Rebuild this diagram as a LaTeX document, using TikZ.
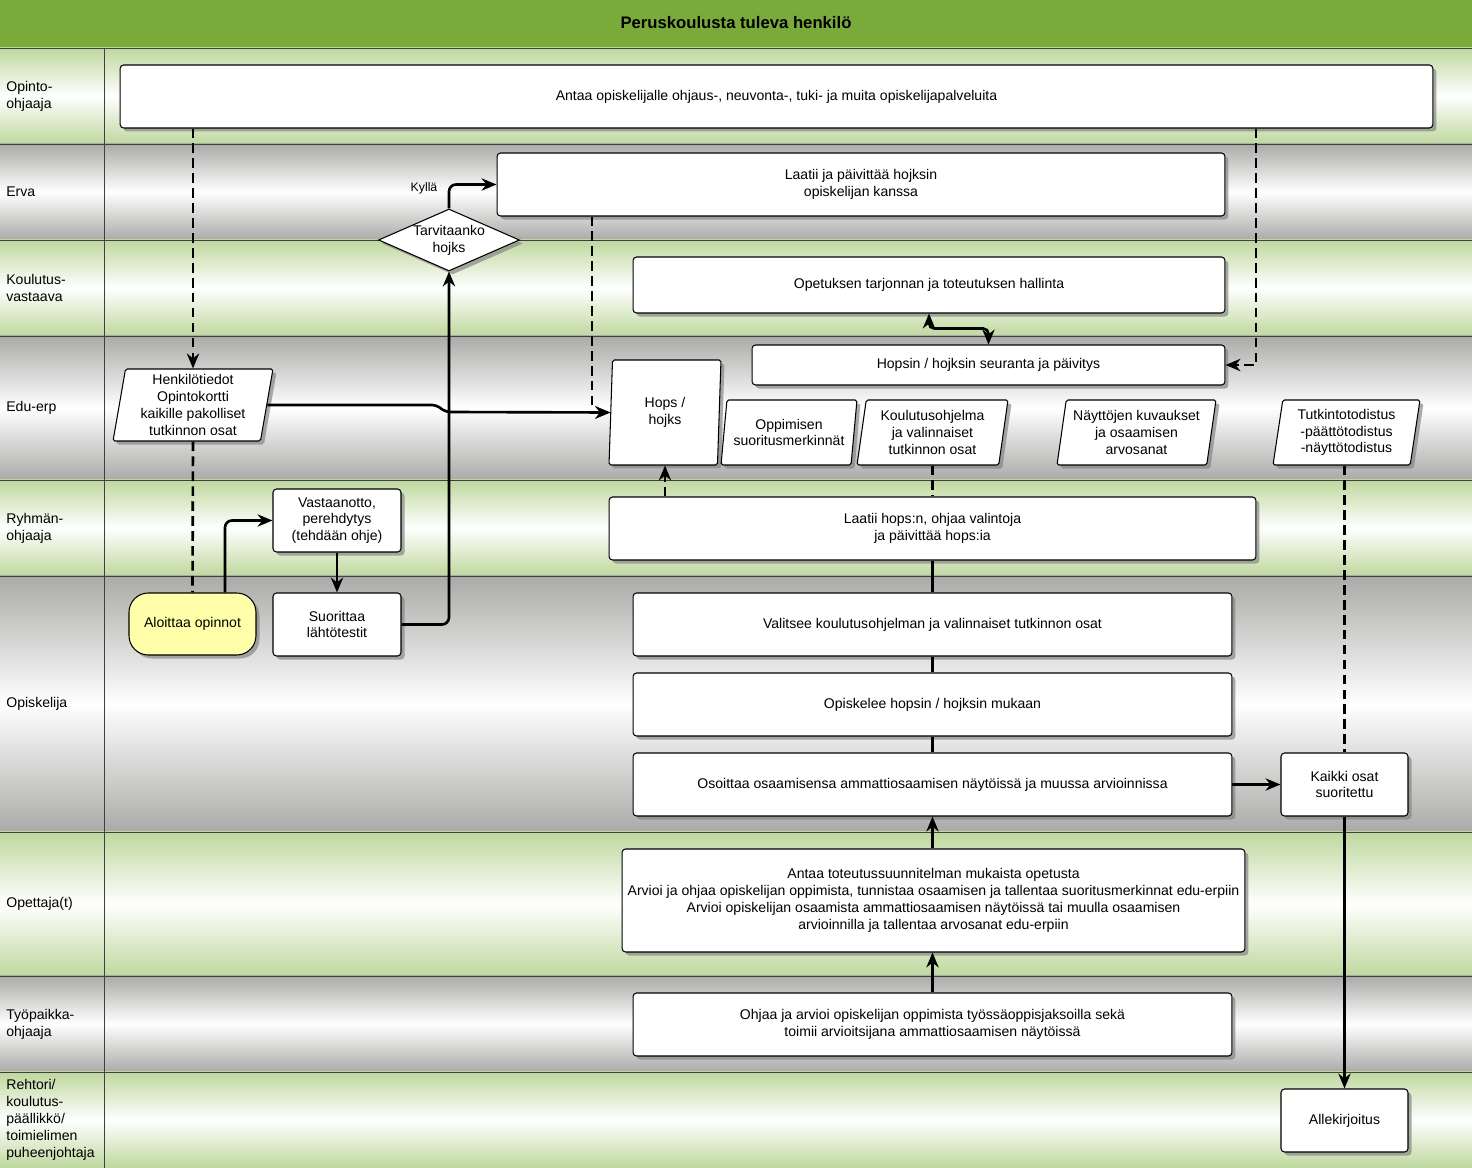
\documentclass[tikz,border=0pt]{standalone}
\usepackage{fontspec}
\setmainfont{Liberation Sans}
\usetikzlibrary{shapes.geometric,shadows,arrows.meta}

\definecolor{otsikkovari}{RGB}{122,171,58}
\definecolor{vihrea}{RGB}{190,216,158}
\definecolor{harmaa}{RGB}{170,170,168}
\definecolor{keltainen}{RGB}{255,255,170}

\tikzset{
  laatikko/.style={draw, fill=white, rounded corners=2pt, line width=0.6pt, align=center, inner sep=1pt,
    drop shadow={shadow xshift=2pt, shadow yshift=-2pt, opacity=0.65}},
  tieto/.style={laatikko, trapezium, trapezium left angle=79, trapezium right angle=101,
    trapezium stretches body, rounded corners=1pt, inner xsep=0pt},
  paatos/.style={laatikko, diamond, rounded corners=0pt, aspect=2.3, inner sep=0pt},
  kaistanimi/.style={anchor=west, align=left, inner sep=0pt},
  viiva/.style={line width=1.5pt},
  nuoli/.style={viiva, -{Stealth[length=8.5pt,width=7pt]}},
  katko/.style={viiva, dash pattern=on 5.5pt off 3pt},
}

\begin{document}
\begin{tikzpicture}[x=0.02cm, y=-0.02cm, every node/.append style={font=\fontsize{8}{9.6}\selectfont}]
  \useasboundingbox (0,0) rectangle (1472,1168);

  % Otsikko
  \fill[otsikkovari] (0,0) rectangle (1472,48);
  \node[font=\fontsize{9.5}{11}\selectfont\bfseries] (otsikko) at (736,23) {Peruskoulusta tuleva henkilö};

  % Kaistat
  \foreach \ya/\yb/\vari in {48/144/vihrea, 144/240/harmaa, 240/336/vihrea, 336/480/harmaa, 480/576/vihrea,
      576/832/harmaa, 832/976/vihrea, 976/1072/harmaa, 1072/1168/vihrea} {
    \shade[top color=\vari, bottom color=\vari, middle color=white] (0,\ya) rectangle (1472,\yb);
    \draw[black!75, line width=0.5pt] (0,\ya) -- (1472,\ya);
  }
  \draw[black!75, line width=0.5pt] (104,48) -- (104,1168);

  % Kaistojen nimet
  \foreach \yk/\nimi in {96/{Opinto-\\ohjaaja}, 192/Erva, 288/{Koulutus-\\vastaava}, 408/Edu-erp,
      528/{Ryhmän-\\ohjaaja}, 704/Opiskelija, 904/{Opettaja(t)}, 1024/{Työpaikka-\\ohjaaja},
      1120/{Rehtori/\\koulutus-\\päällikkö/\\toimielimen\\puheenjohtaja}}
    \node[kaistanimi] (kaista\yk) at (6,\yk) {\nimi};

  % Toiminnot
  \node[laatikko, minimum width=26.26cm, minimum height=1.26cm] (opo) at (776.5,96.5)
    {Antaa opiskelijalle ohjaus-, neuvonta-, tuki- ja muita opiskelijapalveluita};
  \node[laatikko, minimum width=14.56cm, minimum height=1.26cm] (hojksLaadinta) at (861,184.5)
    {Laatii ja päivittää hojksin\\opiskelijan kanssa};
  \node[paatos, minimum width=2.82cm, minimum height=1.24cm] (tarvitaanko) at (449,240) {Tarvitaanko\\hojks};
  \node[font=\fontsize{7}{8}\selectfont] (kylla) at (424,188) {Kyllä};
  \node[laatikko, minimum width=11.84cm, minimum height=1.12cm] (hallinta) at (929,285)
    {Opetuksen tarjonnan ja toteutuksen hallinta};
  \node[laatikko, minimum width=9.46cm, minimum height=0.8cm] (seuranta) at (988.5,365)
    {Hopsin / hojksin seuranta ja päivitys};

  % Edu-erp tiedot
  \node[tieto, minimum width=3.2cm, minimum height=1.44cm] (henkilotiedot) at (193,405)
    {Henkilötiedot\\Opintokortti\\kaikille pakolliset\\tutkinnon osat};
  \node[tieto, trapezium left angle=84, trapezium right angle=96, minimum width=2.24cm, minimum height=2.1cm]
    (hops) at (665,412.5) {Hops /\\hojks};
  \node[tieto, minimum width=2.72cm, minimum height=1.3cm] (merkinnat) at (789,432.5)
    {Oppimisen\\suoritusmerkinnät};
  \node[tieto, minimum width=3.02cm, minimum height=1.3cm] (koulutusohjelma) at (932.5,432.5)
    {Koulutusohjelma\\ja valinnaiset\\tutkinnon osat};
  \node[tieto, minimum width=3.18cm, minimum height=1.3cm] (naytot) at (1136.5,432.5)
    {Näyttöjen kuvaukset\\ja osaamisen\\arvosanat};
  \node[tieto, minimum width=2.94cm, minimum height=1.3cm] (todistus) at (1346.5,432.5)
    {Tutkintotodistus\\-päättötodistus\\-näyttötodistus};

  \node[laatikko, minimum width=2.56cm, minimum height=1.26cm] (vastaanotto) at (337,520.5)
    {Vastaanotto,\\perehdytys\\(tehdään ohje)};
  \node[laatikko, minimum width=12.94cm, minimum height=1.26cm] (laatiiHops) at (932.5,528.5)
    {Laatii hops:n, ohjaa valintoja\\ja päivittää hops:ia};

  % Opiskelija
  \node[laatikko, fill=keltainen, rounded corners=11pt, minimum width=2.54cm, minimum height=1.24cm]
    (aloittaa) at (192.5,624) {Aloittaa opinnot};
  \node[laatikko, minimum width=2.56cm, minimum height=1.26cm] (lahtotestit) at (337,624.5)
    {Suorittaa\\lähtötestit};
  \node[laatikko, minimum width=11.98cm, minimum height=1.26cm] (valitsee) at (932.5,624.5)
    {Valitsee koulutusohjelman ja valinnaiset tutkinnon osat};
  \node[laatikko, minimum width=11.98cm, minimum height=1.26cm] (opiskelee) at (932.5,704.5)
    {Opiskelee hopsin / hojksin mukaan};
  \node[laatikko, minimum width=11.98cm, minimum height=1.26cm] (osoittaa) at (932.5,784.5)
    {Osoittaa osaamisensa ammattiosaamisen näytöissä ja muussa arvioinnissa};
  \node[laatikko, minimum width=2.54cm, minimum height=1.26cm] (kaikki) at (1344.5,784.5)
    {Kaikki osat\\suoritettu};

  \node[laatikko, inner sep=0pt, minimum width=12.46cm, minimum height=2.06cm] (opetus) at (933.5,900.5)
    {Antaa toteutussuunnitelman mukaista opetusta\\
     Arvioi ja ohjaa opiskelijan oppimista, tunnistaa osaamisen ja tallentaa suoritusmerkinnat edu-erpiin\\
     Arvioi opiskelijan osaamista ammattiosaamisen näytöissä tai muulla osaamisen\\
     arvioinnilla ja tallentaa arvosanat edu-erpiin};
  \node[laatikko, minimum width=11.98cm, minimum height=1.26cm] (tyopaikka) at (932.5,1024.5)
    {Ohjaa ja arvioi opiskelijan oppimista työssäoppisjaksoilla sekä\\toimii arvioitsijana ammattiosaamisen näytöissä};
  \node[laatikko, minimum width=2.54cm, minimum height=1.26cm] (allekirjoitus) at (1344.5,1120.5)
    {Allekirjoitus};

  % Katkoviivat
  \draw[katko, nuoli] (opo.south -| henkilotiedot.center) -- (henkilotiedot.center |- henkilotiedot.north);
  \draw[katko] (henkilotiedot.center |- henkilotiedot.south) -- (aloittaa.north);
  \draw[katko, nuoli] (hojksLaadinta.south -| 592,0) |- (hops.west);
  \draw[katko, nuoli] (opo.south -| 1256,0) |- (seuranta.east);
  \draw[katko, nuoli] (laatiiHops.north -| hops.center) -- (hops.center |- hops.south);
  \draw[katko] (koulutusohjelma.center |- koulutusohjelma.south) -- (laatiiHops.north);
  \draw[katko] (todistus.south -| kaikki.north) -- (kaikki.north);

  % Nuolet
  \draw[nuoli, rounded corners=3pt] (henkilotiedot.east) -- (437,405) -- (445,412) -- (hops.west);
  \draw[nuoli, rounded corners=4pt] (tarvitaanko.north) |- (hojksLaadinta.west);
  \draw[viiva, {Stealth[length=8.5pt,width=7pt]}-{Stealth[length=8.5pt,width=7pt]}, rounded corners=3pt]
    (hallinta.south) -- ++(0,15) -| (seuranta.north);
  \draw[nuoli, rounded corners=4pt] (aloittaa.north -| 225,0) |- (vastaanotto.west);
  \draw[nuoli] (vastaanotto.south) -- (lahtotestit.north);
  \draw[nuoli, rounded corners=4pt] (lahtotestit.east) -| (tarvitaanko.south);
  \draw[viiva] (laatiiHops.south) -- (valitsee.north);
  \draw[viiva] (valitsee.south) -- (opiskelee.north);
  \draw[viiva] (opiskelee.south) -- (osoittaa.north);
  \draw[nuoli] (opetus.north -| osoittaa.south) -- (osoittaa.south);
  \draw[nuoli] (tyopaikka.north) -- (tyopaikka.north |- opetus.south);
  \draw[nuoli] (osoittaa.east) -- (kaikki.west);
  \draw[nuoli] (kaikki.south) -- (allekirjoitus.north);
\end{tikzpicture}
\end{document}
